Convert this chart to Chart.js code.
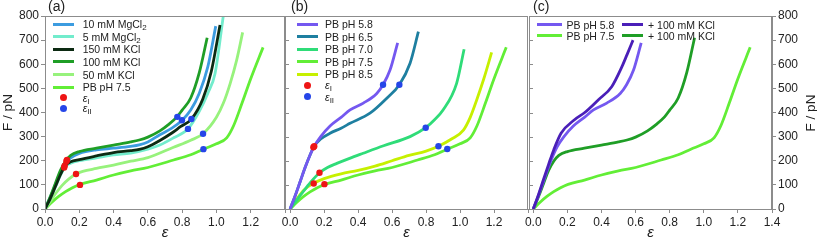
<!DOCTYPE html>
<html>
<head>
<meta charset="utf-8">
<script src="https://cdn.jsdelivr.net/npm/chart.js@4.4.1/dist/chart.umd.min.js"></script>
<style>
  html, body { margin: 0; padding: 0; background: #fff; }
  #wrap { position: relative; width: 817px; height: 242px; overflow: hidden;
          font-family: 'Liberation Sans', Arial, sans-serif; color: #222; }
  canvas { position: absolute; left: 0; top: 0; }
  .sw { position: absolute; height: 3px; }
  .dot { position: absolute; width: 7px; height: 7px; border-radius: 50%; }
  .tx { position: absolute; font-size: 10.5px; line-height: 12px; white-space: nowrap; }
  .tx sub { font-size: 8px; vertical-align: baseline; position: relative; top: 2px; }
</style>
</head>
<body>
<div id="wrap">
  <canvas id="ca" width="817" height="242"></canvas>
  <canvas id="cb" width="817" height="242"></canvas>
  <canvas id="cc" width="817" height="242"></canvas>
</div>
<script>
const FONT = "'Liberation Sans', Arial, sans-serif";
const GRAY = '#8c8c8c';

const xTicks = [0, 0.2, 0.4, 0.6, 0.8, 1.0, 1.2, 1.4];
const yTicks = [0, 100, 200, 300, 400, 500, 600, 700, 800];

// (a) salt series
const epsK100 = [0, 0.03, 0.06, 0.09, 0.12, 0.15, 0.2, 0.3, 0.4, 0.5, 0.55, 0.6, 0.67, 0.72, 0.77, 0.8, 0.85, 0.9, 0.946];
const fK100   = [0, 50, 105, 160, 198, 222, 238, 252, 265, 278, 286, 298, 324, 350, 382, 410, 460, 565, 710];
const epsMg10 = [0, 0.03, 0.06, 0.09, 0.12, 0.15, 0.2, 0.3, 0.4, 0.5, 0.55, 0.6, 0.67, 0.74, 0.8, 0.85, 0.9, 0.95, 0.996];
const fMg10   = [0, 48, 100, 152, 192, 212, 230, 245, 252, 260, 266, 278, 308, 335, 368, 410, 480, 590, 758];
const epsK150 = [0, 0.03, 0.06, 0.09, 0.12, 0.15, 0.2, 0.3, 0.4, 0.5, 0.55, 0.6, 0.67, 0.74, 0.79, 0.854, 0.92, 0.97, 1.021];
const fK150   = [0, 42, 92, 142, 182, 196, 205, 220, 234, 242, 247, 258, 284, 315, 341, 373, 455, 570, 763];
const epsMg5  = [0, 0.03, 0.06, 0.09, 0.12, 0.15, 0.2, 0.3, 0.4, 0.5, 0.6, 0.67, 0.75, 0.834, 0.9, 0.95, 0.992, 1.04];
const fMg5    = [0, 42, 90, 140, 178, 190, 200, 212, 224, 232, 248, 265, 295, 332, 405, 480, 562, 800];
const epsK50  = [0, 0.03, 0.06, 0.1, 0.14, 0.181, 0.22, 0.3, 0.4, 0.5, 0.6, 0.75, 0.85, 0.922, 1.0, 1.04, 1.08, 1.118, 1.153];
const fK50    = [0, 30, 62, 98, 125, 145, 156, 168, 182, 198, 213, 256, 285, 312, 380, 438, 520, 617, 732];
const epsPb75 = [0, 0.04, 0.08, 0.12, 0.16, 0.204, 0.3, 0.4, 0.5, 0.6, 0.75, 0.85, 0.924, 1.0, 1.06, 1.1, 1.15, 1.2, 1.272];
const fPb75   = [0, 28, 52, 72, 88, 102, 120, 141, 158, 172, 203, 225, 248, 270, 295, 345, 440, 540, 670];

// (b) pH series
const epsPh58 = [0, 0.03, 0.06, 0.09, 0.12, 0.14, 0.18, 0.235, 0.3, 0.353, 0.431, 0.51, 0.547, 0.588, 0.633];
const fPh58   = [0, 55, 115, 175, 228, 258, 300, 344, 380, 411, 439, 479, 515, 576, 689];
const epsPh65 = [0, 0.03, 0.06, 0.09, 0.12, 0.14, 0.18, 0.235, 0.3, 0.353, 0.47, 0.569, 0.643, 0.706, 0.755];
const fPh65   = [0, 55, 115, 175, 228, 258, 290, 314, 335, 355, 397, 459, 515, 604, 735];
const epsPh70 = [0, 0.04, 0.08, 0.12, 0.173, 0.22, 0.275, 0.35, 0.43, 0.55, 0.706, 0.798, 0.85, 0.9, 0.98, 1.024];
const fPh70   = [0, 38, 75, 110, 150, 172, 189, 210, 231, 262, 300, 337, 370, 410, 521, 662];
const epsPh85 = [0, 0.04, 0.08, 0.137, 0.2, 0.3, 0.4, 0.5, 0.6, 0.7, 0.8, 0.873, 0.95, 1.02, 1.06, 1.098, 1.14, 1.186];
const fPh85   = [0, 42, 78, 106, 126, 146, 160, 178, 200, 222, 240, 260, 290, 327, 380, 452, 540, 649];

// (c) pH 5.8 + 100 mM KCl
const epsPh58K = [0, 0.03, 0.06, 0.09, 0.12, 0.163, 0.242, 0.302, 0.381, 0.46, 0.52, 0.55, 0.585];
const fPh58K   = [0, 58, 122, 185, 245, 314, 370, 400, 452, 507, 590, 640, 700];

// transition points
const eps1A = [0.112, 0.115, 0.125, 0.128, 0.181, 0.204];
const f1A   = [172, 180, 198, 203, 145, 100];
const eps2A = [0.772, 0.799, 0.854, 0.834, 0.922, 0.924];
const f2A   = [382, 368, 373, 332, 312, 248];
const eps1B = [0.137, 0.142, 0.173, 0.139, 0.202];
const f1B   = [256, 260, 150, 106, 103];
const eps2B = [0.547, 0.643, 0.798, 0.873, 0.925];
const f2B   = [515, 515, 337, 260, 249];

const C = {
  mg10: '#3c9ce0', mg5: '#72eccc', k150: '#0c2a12', k100: '#1f9e26', k50: '#97f27c', pb75: '#62ee36',
  ph58: '#7458f0', ph65: '#1e7fa0', ph70: '#2fdc78', ph85: '#c6f000', ph58k: '#4a1fb8',
  red: '#ee1515', blue: '#2545e8'
};

const pts = (xs, ys) => xs.map((x, i) => ({ x: x, y: ys[i] }));

const line = (label, color, xs, ys) => ({
  label: label, data: pts(xs, ys), showLine: true, borderColor: color, backgroundColor: color,
  borderWidth: 2.8, pointRadius: 0, cubicInterpolationMode: 'monotone', order: 1
});
const dots = (label, color, xs, ys) => ({
  label: label, data: pts(xs, ys), showLine: false, backgroundColor: color, borderColor: color,
  borderWidth: 0, pointRadius: 3.2, order: 0
});

const frame = {
  id: 'frame',
  afterDraw(chart, args, o) {
    const { ctx, chartArea: a } = chart;
    ctx.save();
    ctx.strokeStyle = GRAY;
    ctx.lineWidth = 1;
    ctx.beginPath();
    ctx.moveTo(a.left, a.top + 0.5); ctx.lineTo(a.right, a.top + 0.5);
    ctx.moveTo(a.right - 0.5, a.top); ctx.lineTo(a.right - 0.5, a.bottom);
    ctx.moveTo(a.left + 0.5, a.top); ctx.lineTo(a.left + 0.5, a.bottom);
    if (o.inTicks) {
      const ys = chart.scales.y;
      yTicks.forEach(v => {
        const p = Math.round(ys.getPixelForValue(v)) + 0.5;
        ctx.moveTo(a.left, p); ctx.lineTo(a.left + 4, p);
      });
    }
    ctx.stroke();
    ctx.fillStyle = '#222';
    ctx.textBaseline = 'middle';
    ctx.font = '14px ' + FONT;
    ctx.fillText(o.label, o.labelX, 7);
    if (o.rightTitle) {
      ctx.font = '13.5px ' + FONT;
      ctx.translate(811, 113);
      ctx.rotate(-Math.PI / 2);
      ctx.textAlign = 'center';
      ctx.fillText('F / pN', 0, 0);
    }
    ctx.restore();
  }
};

function panel(id, o) {
  const tickFont = { family: FONT, size: 12 };
  return new Chart(document.getElementById(id), {
    type: 'scatter',
    data: { datasets: o.datasets },
    options: {
      responsive: false,
      animation: false,
      events: [],
      layout: { padding: { left: o.padL, right: o.padR, top: 16, bottom: 0 } },
      plugins: {
        legend: { display: false },
        tooltip: { enabled: false },
        frame: { label: o.label, labelX: o.labelX, inTicks: o.inTicks, rightTitle: o.rightTitle }
      },
      scales: {
        x: {
          type: 'linear', min: o.xmin, max: 1.4,
          afterBuildTicks: s => { s.ticks = xTicks.map(v => ({ value: v })); },
          afterFit: s => { s.height = 33; },
          ticks: {
            autoSkip: false, maxRotation: 0, padding: 2, color: '#222', font: tickFont,
            callback: v => (v > 1.3 && !o.last) ? '' : v.toFixed(1)
          },
          grid: { drawOnChartArea: false, tickLength: 4, color: GRAY },
          border: { color: GRAY },
          title: { display: true, text: 'ε', color: '#222', padding: 0,
                   font: { family: FONT, size: 15, style: 'italic' } }
        },
        y: {
          type: 'linear', min: 0, max: 800, position: o.yPos,
          afterBuildTicks: s => { s.ticks = yTicks.map(v => ({ value: v })); },
          afterFit: s => { s.width = o.yW; },
          ticks: { display: o.yLabels, padding: 2, color: '#222', font: tickFont },
          grid: { drawOnChartArea: false, tickLength: 4, color: GRAY, drawTicks: o.yLabels },
          border: { color: GRAY },
          title: { display: o.yPos === 'left' && o.yLabels, text: 'F / pN', color: '#222', padding: 0,
                   font: { family: FONT, size: 13.5 } }
        }
      }
    },
    plugins: [frame]
  });
}

panel('ca', {
  padL: 0, padR: 817 - 285, xmin: 0, yPos: 'left', yW: 45, yLabels: true,
  label: '(a)', labelX: 48, inTicks: false, last: false,
  datasets: [
    dots('εI', C.red, eps1A, f1A),
    dots('εII', C.blue, eps2A, f2A),
    line('150 mM KCl', C.k150, epsK150, fK150),
    line('100 mM KCl', C.k100, epsK100, fK100),
    line('10 mM MgCl2', C.mg10, epsMg10, fMg10),
    line('5 mM MgCl2', C.mg5, epsMg5, fMg5),
    line('50 mM KCl', C.k50, epsK50, fK50),
    line('PB pH 7.5', C.pb75, epsPb75, fPb75)
  ]
});

panel('cb', {
  padL: 285, padR: 817 - 528, xmin: -0.03, yPos: 'left', yW: 0, yLabels: false,
  label: '(b)', labelX: 291, inTicks: true, last: false,
  datasets: [
    dots('εI', C.red, eps1B, f1B),
    dots('εII', C.blue, eps2B, f2B),
    line('PB pH 5.8', C.ph58, epsPh58, fPh58),
    line('PB pH 6.5', C.ph65, epsPh65, fPh65),
    line('PB pH 7.0', C.ph70, epsPh70, fPh70),
    line('PB pH 8.5', C.ph85, epsPh85, fPh85),
    line('PB pH 7.5', C.pb75, epsPb75, fPb75)
  ]
});

panel('cc', {
  padL: 529, padR: 0, xmin: -0.025, yPos: 'right', yW: 45, yLabels: true,
  label: '(c)', labelX: 533, inTicks: true, last: true, rightTitle: true,
  datasets: [
    line('+ 100 mM KCl', C.ph58k, epsPh58K, fPh58K),
    line('PB pH 5.8', C.ph58, epsPh58, fPh58),
    line('+ 100 mM KCl', C.k100, epsK100, fK100),
    line('PB pH 7.5', C.pb75, epsPb75, fPb75)
  ]
});

// legends (HTML, so the subscripts stay real text)
const legendA = [
  ['line', C.mg10, '10 mM MgCl<sub>2</sub>'],
  ['line', C.mg5, '5 mM MgCl<sub>2</sub>'],
  ['line', C.k150, '150 mM KCl'],
  ['line', C.k100, '100 mM KCl'],
  ['line', C.k50, '50 mM KCl'],
  ['line', C.pb75, 'PB pH 7.5'],
  ['dot', C.red, '<i>ε</i><sub>I</sub>'],
  ['dot', C.blue, '<i>ε</i><sub>II</sub>']
];
const legendB = [
  ['line', C.ph58, 'PB pH 5.8'],
  ['line', C.ph65, 'PB pH 6.5'],
  ['line', C.ph70, 'PB pH 7.0'],
  ['line', C.pb75, 'PB pH 7.5'],
  ['line', C.ph85, 'PB pH 8.5'],
  ['dot', C.red, '<i>ε</i><sub>I</sub>'],
  ['dot', C.blue, '<i>ε</i><sub>II</sub>']
];
const legendC = [
  ['line', C.ph58, 'PB pH 5.8'],
  ['line', C.ph58k, '+ 100 mM KCl'],
  ['line', C.pb75, 'PB pH 7.5'],
  ['line', C.k100, '+ 100 mM KCl']
];

const wrap = document.getElementById('wrap');
function put(cls, css, html) {
  const d = document.createElement('div');
  d.className = cls;
  Object.assign(d.style, css);
  if (html) d.innerHTML = html;
  wrap.appendChild(d);
}
function item(kind, color, html, sx, sw, tx, y) {
  if (kind === 'line') put('sw', { left: sx + 'px', top: (y - 1.5) + 'px', width: sw + 'px', background: color });
  else put('dot', { left: (sx + sw / 2 - 3.5) + 'px', top: (y - 3.5) + 'px', background: color });
  put('tx', { left: tx + 'px', top: (y - 6) + 'px' }, html);
}
function columnLegend(items, sx, tx, lineDy, dotDy) {
  let y = 24;
  items.forEach((it, i) => {
    if (i > 0) y += it[0] === 'dot' ? dotDy : lineDy;
    item(it[0], it[1], it[2], sx, 21.5, tx, y);
  });
}
columnLegend(legendA, 52.7, 82.7, 12.65, 10.5);
columnLegend(legendB, 296.7, 325, 12.5, 11.3);
legendC.forEach((it, i) => {
  const row = Math.floor(i / 2), col = i % 2;
  const y = 24.7 + row * 11;
  if (col === 0) item(it[0], it[1], it[2], 537, 25, 566.5, y);
  else item(it[0], it[1], it[2], 622, 21, 648, y);
});
</script>
</body>
</html>
